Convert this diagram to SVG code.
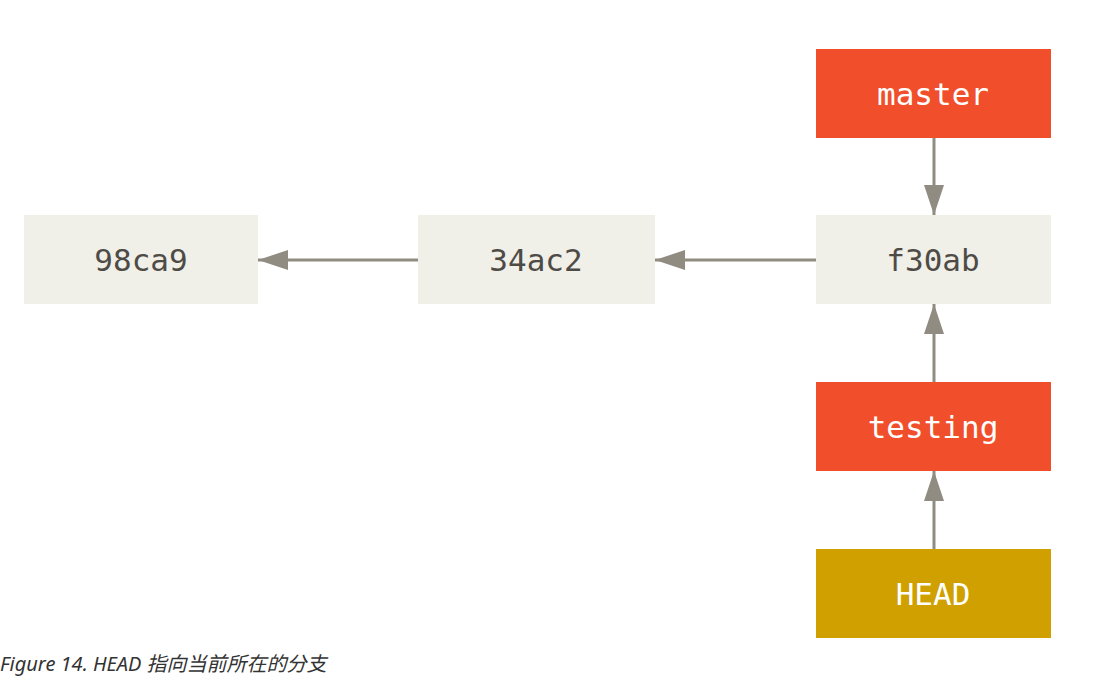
<svg xmlns="http://www.w3.org/2000/svg" width="1109" height="689" viewBox="0 0 1109 689">
<style>
.c{fill:#f0efe8}
.r{fill:#f14e2b}
.h{fill:#cfa000}
.t{font-family:"DejaVu Sans Mono",monospace;font-size:31px;text-anchor:middle;dominant-baseline:central}
.d{fill:#4e4b47}
.w{fill:#ffffff}
.l{stroke:#918c82;stroke-width:3;fill:none}
</style>
<defs>
<marker id="a" markerWidth="10" markerHeight="8" refX="10" refY="4" orient="auto" markerUnits="userSpaceOnUse" viewBox="0 0 10 8">
<path d="M0,0 L10,4 L0,8 Z" fill="#918c82" transform="scale(1)"/>
</marker>
<marker id="b" viewBox="0 0 30 20" refX="30" refY="10" markerWidth="30" markerHeight="20" orient="auto" markerUnits="userSpaceOnUse">
<path d="M0,0 L30,10 L0,20 Z" fill="#918c82"/>
</marker>
</defs>
<rect width="1109" height="689" fill="#fff"/>
<g id="connectors">
<line class="l" x1="418" y1="260" x2="258" y2="260" marker-end="url(#b)"/>
<line class="l" x1="816" y1="260" x2="655" y2="260" marker-end="url(#b)"/>
<line class="l" x1="934" y1="138" x2="934" y2="215" marker-end="url(#b)"/>
<line class="l" x1="934" y1="382" x2="934" y2="304" marker-end="url(#b)"/>
<line class="l" x1="934" y1="549" x2="934" y2="471" marker-end="url(#b)"/>
</g>
<g id="n98ca9"><rect class="c" x="24" y="215" width="234" height="89"/><text class="t d" x="141" y="260">98ca9</text></g>
<g id="n34ac2"><rect class="c" x="418" y="215" width="237" height="89"/><text class="t d" x="536" y="260">34ac2</text></g>
<g id="nf30ab"><rect class="c" x="816" y="215" width="235" height="89"/><text class="t d" x="933" y="260">f30ab</text></g>
<g id="master"><rect class="r" x="816" y="49" width="235" height="89"/><text class="t w" x="933" y="94">master</text></g>
<g id="testing"><rect class="r" x="816" y="382" width="235" height="89"/><text class="t w" x="933" y="427">testing</text></g>
<g id="HEAD"><rect class="h" x="816" y="549" width="235" height="89"/><text class="t w" x="933" y="594">HEAD</text></g>
<text x="0" y="671" font-family="'Noto Sans','Noto Sans CJK SC',sans-serif" font-style="italic" font-size="20" fill="#333">Figure 14. HEAD 指向当前所在的分支</text>
</svg>
